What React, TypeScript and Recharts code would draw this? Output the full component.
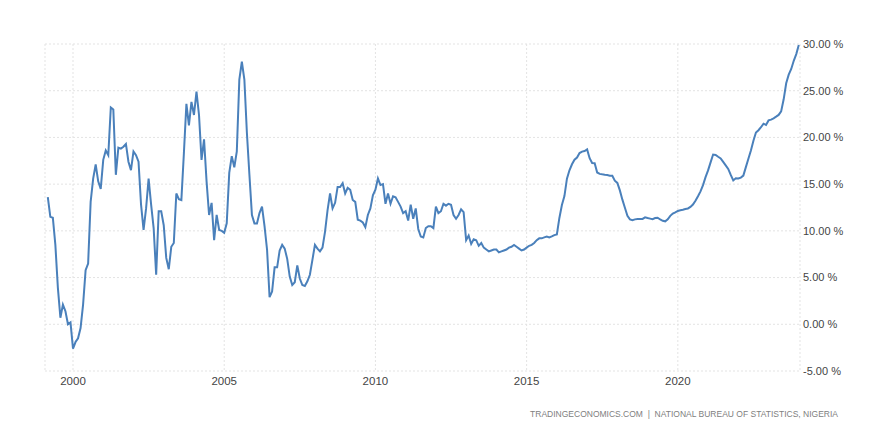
import React from "react";
import { LineChart, Line, XAxis, YAxis, CartesianGrid } from "recharts";

// Nigeria inflation rate, monthly YoY %, Mar 1999 .. Jan 2024
const infl1999 = [13.6, 11.5, 11.4, 8.5, 3.9, 0.7, 2.1, 1.4, 0.0, 0.2]; // Mar-Dec
const infl2000 = [-2.6, -1.9, -1.5, -0.4, 2.1, 5.8, 6.5, 13.1, 15.6, 17.1, 15.3, 14.5];
const infl2001 = [17.6, 18.6, 18.1, 23.2, 23.0, 16.0, 18.9, 18.8, 19.0, 19.3, 17.4, 16.5];
const infl2002 = [18.5, 18.1, 17.4, 12.8, 10.1, 12.4, 15.6, 12.8, 10.3, 5.3, 12.1, 12.1];
const infl2003 = [10.6, 7.1, 5.9, 8.3, 8.7, 14.0, 13.4, 13.3, 18.3, 23.6, 21.3, 23.8];
const infl2004 = [22.4, 24.9, 22.4, 17.6, 19.8, 15.3, 11.7, 13.0, 9.0, 11.7, 10.1, 10.0];
const infl2005 = [9.8, 10.8, 16.2, 18.0, 16.8, 18.5, 26.2, 28.1, 26.2, 20.5, 16.0, 11.7];
const infl2006 = [10.8, 10.8, 11.9, 12.6, 10.5, 8.0, 2.9, 3.5, 6.1, 6.1, 7.9, 8.5];
const infl2007 = [8.1, 7.0, 5.1, 4.2, 4.5, 6.3, 4.9, 4.2, 4.1, 4.6, 5.3, 6.9];
const infl2008 = [8.5, 8.1, 7.8, 8.2, 9.9, 12.2, 14.0, 12.4, 13.0, 14.7, 14.7, 15.1];
const infl2009 = [14.0, 14.6, 14.4, 13.3, 13.1, 11.2, 11.1, 10.9, 10.4, 11.7, 12.4, 13.8];
const infl2010 = [14.4, 15.6, 14.9, 15.0, 12.9, 14.0, 12.9, 13.7, 13.6, 13.1, 12.6, 11.9];
const infl2011 = [12.1, 11.1, 12.8, 11.3, 12.4, 10.2, 9.4, 9.3, 10.3, 10.5, 10.5, 10.3];
const infl2012 = [12.6, 11.9, 12.1, 12.9, 12.7, 12.9, 12.8, 11.7, 11.3, 11.7, 12.3, 12.0];
const infl2013 = [9.0, 9.5, 8.6, 9.1, 9.0, 8.4, 8.7, 8.2, 8.0, 7.8, 7.9, 8.0];
const infl2014 = [8.0, 7.7, 7.8, 7.9, 8.0, 8.2, 8.3, 8.5, 8.3, 8.1, 7.9, 8.0];
const infl2015 = [8.2, 8.4, 8.5, 8.7, 9.0, 9.2, 9.2, 9.3, 9.4, 9.3, 9.4, 9.55];
const infl2016 = [9.62, 11.38, 12.77, 13.72, 15.58, 16.48, 17.13, 17.61, 17.85, 18.33, 18.48, 18.55];
const infl2017 = [18.72, 17.78, 17.26, 17.24, 16.25, 16.1, 16.05, 16.01, 15.98, 15.91, 15.9, 15.37];
const infl2018 = [15.13, 14.33, 13.34, 12.48, 11.61, 11.23, 11.14, 11.23, 11.28, 11.26, 11.28, 11.44];
const infl2019 = [11.37, 11.31, 11.25, 11.37, 11.4, 11.22, 11.08, 11.02, 11.24, 11.61, 11.85, 11.98];
const infl2020 = [12.13, 12.2, 12.26, 12.34, 12.4, 12.56, 12.82, 13.22, 13.71, 14.23, 14.89, 15.75];
const infl2021 = [16.47, 17.33, 18.17, 18.12, 17.93, 17.75, 17.38, 17.01, 16.63, 15.99, 15.4, 15.63];
const infl2022 = [15.6, 15.7, 15.92, 16.82, 17.71, 18.6, 19.64, 20.52, 20.77, 21.09, 21.47, 21.34];
const infl2023 = [21.82, 21.91, 22.04, 22.22, 22.41, 22.79, 24.08, 25.8, 26.72, 27.33, 28.2, 28.92];
const infl2024 = [29.9]; // Jan

const xTicks = [2000, 2005, 2010, 2015, 2020];
const yTicks = [-5, 0, 5, 10, 15, 20, 25, 30];

const allValues = [
  ...infl1999, ...infl2000, ...infl2001, ...infl2002, ...infl2003, ...infl2004,
  ...infl2005, ...infl2006, ...infl2007, ...infl2008, ...infl2009, ...infl2010,
  ...infl2011, ...infl2012, ...infl2013, ...infl2014, ...infl2015, ...infl2016,
  ...infl2017, ...infl2018, ...infl2019, ...infl2020, ...infl2021, ...infl2022,
  ...infl2023, ...infl2024,
];

// first point is March 1999
const data = allValues.map((v, i) => ({ t: 1999 + (i + 2) / 12, value: v }));

const FONT = "'Liberation Sans', Arial, sans-serif";

export default function App() {
  return (
    <div
      style={{
        position: "absolute",
        left: 0,
        top: 0,
        width: 882,
        height: 445,
        background: "#fff",
        fontFamily: FONT,
      }}
    >
      <LineChart
        width={882}
        height={445}
        data={data}
        margin={{ top: 44, right: 22, bottom: 44, left: 45 }}
      >
        <CartesianGrid stroke="#e3e3e3" strokeDasharray="2 2" />
        <XAxis
          dataKey="t"
          type="number"
          domain={[1999.074, 2024.04]}
          ticks={xTicks}
          allowDataOverflow
          axisLine={false}
          tickLine={false}
          tickSize={0}
          tickMargin={6}
          height={30}
          tick={{ fontSize: 11.5, fill: "#444", fontFamily: FONT }}
          tickFormatter={(v: number) => String(v)}
        />
        <YAxis
          orientation="right"
          type="number"
          domain={[-5, 30]}
          ticks={yTicks}
          allowDataOverflow
          axisLine={false}
          tickLine={false}
          tickSize={0}
          tickMargin={3}
          width={60}
          tick={{ fontSize: 11, fill: "#444", fontFamily: FONT }}
          tickFormatter={(v: number) => `${v.toFixed(2)} %`}
        />
        <Line
          type="linear"
          dataKey="value"
          stroke="#4a80bb"
          strokeWidth={2}
          dot={false}
          isAnimationActive={false}
        />
      </LineChart>
      <div
        style={{
          position: "absolute",
          right: 44,
          top: 409,
          fontSize: 8.5,
          color: "#808080",
          whiteSpace: "pre",
        }}
      >
        {"TRADINGECONOMICS.COM  |  NATIONAL BUREAU OF STATISTICS, NIGERIA"}
      </div>
    </div>
  );
}
